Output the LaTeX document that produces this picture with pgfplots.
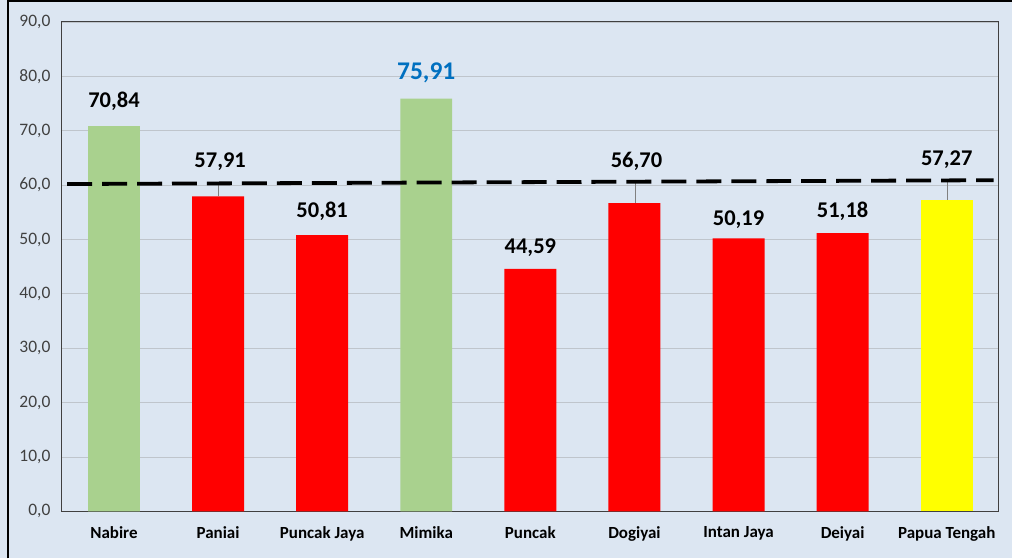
\documentclass[border=0pt]{standalone}
\usepackage{fontspec}
\setmainfont{Carlito}
\usepackage{pgfplots}
\pgfplotsset{compat=1.18}
\definecolor{bg}{HTML}{DCE6F2}
\definecolor{bargreen}{HTML}{A9D18E}
\definecolor{barred}{HTML}{FF0000}
\definecolor{baryellow}{HTML}{FFFF00}
\definecolor{lblblue}{HTML}{0070C0}
\definecolor{gridgray}{HTML}{BFC5CC}
\definecolor{axisdark}{HTML}{404040}
\begin{document}
\begin{tikzpicture}[x=1pt,y=1pt]
\fill[bg] (0,0) rectangle (1013,559);
\draw[black, line width=2.5pt] (8,0) -- (8,557.75) -- (1013,557.75);
\begin{axis}[
  at={(62pt,47pt)}, anchor=south west,
  scale only axis, width=938pt, height=490pt,
  xmin=-0.5, xmax=8.5, ymin=0, ymax=90,
  ytick={0,10,20,30,40,50,60,70,80,90},
  yticklabels={{0,0},{10,0},{20,0},{30,0},{40,0},{50,0},{60,0},{70,0},{80,0},{90,0}},
  xtick={0,...,8},
  xticklabels={Nabire,Paniai,Puncak Jaya,Mimika,Puncak,Dogiyai,Intan Jaya,Deiyai,Papua Tengah},
  major tick length=0pt,
  ymajorgrids,
  grid style={draw=gridgray, line width=0.9pt},
  axis line style={draw=axisdark, line width=1pt},
  yticklabel style={font=\fontsize{17.5}{17.5}\selectfont, text=axisdark, xshift=-8pt},
  xticklabel style={font=\fontsize{17}{17}\selectfont\bfseries, text=black, yshift=-12pt},
  ybar, bar width=52pt,
]
\addplot[fill=bargreen, draw=none, bar shift=0pt] coordinates {(0,70.84) (3,75.91)};
\addplot[fill=barred, draw=none, bar shift=0pt] coordinates {(1,57.91) (2,50.81) (4,44.59) (5,56.70) (6,50.19) (7,51.18)};
\addplot[fill=baryellow, draw=none, bar shift=0pt] coordinates {(8,57.27)};
% leader lines
\addplot[sharp plot, draw=gray, line width=0.6pt, forget plot] coordinates {(1,57.91) (1,60.4)};
\addplot[sharp plot, draw=gray, line width=0.6pt, forget plot] coordinates {(5.01,56.70) (5.01,60.3)};
\addplot[sharp plot, draw=gray, line width=0.6pt, forget plot] coordinates {(8.01,57.27) (8.01,61.0)};
% dashed reference line
\addplot[sharp plot, draw=black, line width=3.8pt, dash pattern=on 25pt off 10pt, forget plot] coordinates {(-0.45,60.2) (8.45,60.9)};
% value labels
\begin{scope}[font=\fontsize{22.5}{22.5}\selectfont\bfseries]
\node at (axis cs:0,75.5) {70,84};
\node at (axis cs:1.02,64.3) {57,91};
\node at (axis cs:2,55.1) {50,81};
\node at (axis cs:4,48.5) {44,59};
\node at (axis cs:5.02,64.3) {56,70};
\node at (axis cs:6,53.6) {50,19};
\node at (axis cs:7,55.1) {51,18};
\node at (axis cs:8,64.7) {57,27};
\end{scope}
\node[font=\fontsize{25.5}{25.5}\selectfont\bfseries, text=lblblue] at (axis cs:3,80.6) {75,91};
\end{axis}
\end{tikzpicture}
\end{document}
